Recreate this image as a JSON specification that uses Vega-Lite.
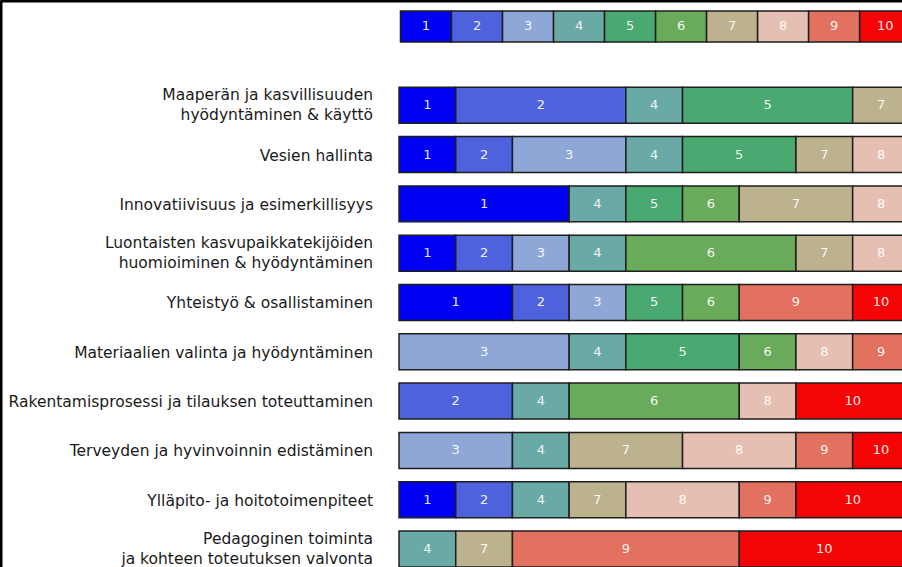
{
  "$schema": "https://vega.github.io/schema/vega-lite/v6.json",
  "width": 902,
  "height": 567,
  "autosize": "none",
  "padding": 0,
  "background": "white",
  "config": {"view": {"stroke": null}, "font": "DejaVu Sans"},
  "datasets": {
    "segments": [
      {"row": "Maaperän ja kasvillisuuden\nhyödyntäminen & käyttö", "score": 1, "count": 1},
      {"row": "Maaperän ja kasvillisuuden\nhyödyntäminen & käyttö", "score": 2, "count": 3},
      {"row": "Maaperän ja kasvillisuuden\nhyödyntäminen & käyttö", "score": 4, "count": 1},
      {"row": "Maaperän ja kasvillisuuden\nhyödyntäminen & käyttö", "score": 5, "count": 3},
      {"row": "Maaperän ja kasvillisuuden\nhyödyntäminen & käyttö", "score": 7, "count": 1},
      {"row": "Vesien hallinta", "score": 1, "count": 1},
      {"row": "Vesien hallinta", "score": 2, "count": 1},
      {"row": "Vesien hallinta", "score": 3, "count": 2},
      {"row": "Vesien hallinta", "score": 4, "count": 1},
      {"row": "Vesien hallinta", "score": 5, "count": 2},
      {"row": "Vesien hallinta", "score": 7, "count": 1},
      {"row": "Vesien hallinta", "score": 8, "count": 1},
      {"row": "Innovatiivisuus ja esimerkillisyys", "score": 1, "count": 3},
      {"row": "Innovatiivisuus ja esimerkillisyys", "score": 4, "count": 1},
      {"row": "Innovatiivisuus ja esimerkillisyys", "score": 5, "count": 1},
      {"row": "Innovatiivisuus ja esimerkillisyys", "score": 6, "count": 1},
      {"row": "Innovatiivisuus ja esimerkillisyys", "score": 7, "count": 2},
      {"row": "Innovatiivisuus ja esimerkillisyys", "score": 8, "count": 1},
      {"row": "Luontaisten kasvupaikkatekijöiden\nhuomioiminen & hyödyntäminen", "score": 1, "count": 1},
      {"row": "Luontaisten kasvupaikkatekijöiden\nhuomioiminen & hyödyntäminen", "score": 2, "count": 1},
      {"row": "Luontaisten kasvupaikkatekijöiden\nhuomioiminen & hyödyntäminen", "score": 3, "count": 1},
      {"row": "Luontaisten kasvupaikkatekijöiden\nhuomioiminen & hyödyntäminen", "score": 4, "count": 1},
      {"row": "Luontaisten kasvupaikkatekijöiden\nhuomioiminen & hyödyntäminen", "score": 6, "count": 3},
      {"row": "Luontaisten kasvupaikkatekijöiden\nhuomioiminen & hyödyntäminen", "score": 7, "count": 1},
      {"row": "Luontaisten kasvupaikkatekijöiden\nhuomioiminen & hyödyntäminen", "score": 8, "count": 1},
      {"row": "Yhteistyö & osallistaminen", "score": 1, "count": 2},
      {"row": "Yhteistyö & osallistaminen", "score": 2, "count": 1},
      {"row": "Yhteistyö & osallistaminen", "score": 3, "count": 1},
      {"row": "Yhteistyö & osallistaminen", "score": 5, "count": 1},
      {"row": "Yhteistyö & osallistaminen", "score": 6, "count": 1},
      {"row": "Yhteistyö & osallistaminen", "score": 9, "count": 2},
      {"row": "Yhteistyö & osallistaminen", "score": 10, "count": 1},
      {"row": "Materiaalien valinta ja hyödyntäminen", "score": 3, "count": 3},
      {"row": "Materiaalien valinta ja hyödyntäminen", "score": 4, "count": 1},
      {"row": "Materiaalien valinta ja hyödyntäminen", "score": 5, "count": 2},
      {"row": "Materiaalien valinta ja hyödyntäminen", "score": 6, "count": 1},
      {"row": "Materiaalien valinta ja hyödyntäminen", "score": 8, "count": 1},
      {"row": "Materiaalien valinta ja hyödyntäminen", "score": 9, "count": 1},
      {"row": "Rakentamisprosessi ja tilauksen toteuttaminen", "score": 2, "count": 2},
      {"row": "Rakentamisprosessi ja tilauksen toteuttaminen", "score": 4, "count": 1},
      {"row": "Rakentamisprosessi ja tilauksen toteuttaminen", "score": 6, "count": 3},
      {"row": "Rakentamisprosessi ja tilauksen toteuttaminen", "score": 8, "count": 1},
      {"row": "Rakentamisprosessi ja tilauksen toteuttaminen", "score": 10, "count": 2},
      {"row": "Terveyden ja hyvinvoinnin edistäminen", "score": 3, "count": 2},
      {"row": "Terveyden ja hyvinvoinnin edistäminen", "score": 4, "count": 1},
      {"row": "Terveyden ja hyvinvoinnin edistäminen", "score": 7, "count": 2},
      {"row": "Terveyden ja hyvinvoinnin edistäminen", "score": 8, "count": 2},
      {"row": "Terveyden ja hyvinvoinnin edistäminen", "score": 9, "count": 1},
      {"row": "Terveyden ja hyvinvoinnin edistäminen", "score": 10, "count": 1},
      {"row": "Ylläpito- ja hoitotoimenpiteet", "score": 1, "count": 1},
      {"row": "Ylläpito- ja hoitotoimenpiteet", "score": 2, "count": 1},
      {"row": "Ylläpito- ja hoitotoimenpiteet", "score": 4, "count": 1},
      {"row": "Ylläpito- ja hoitotoimenpiteet", "score": 7, "count": 1},
      {"row": "Ylläpito- ja hoitotoimenpiteet", "score": 8, "count": 2},
      {"row": "Ylläpito- ja hoitotoimenpiteet", "score": 9, "count": 1},
      {"row": "Ylläpito- ja hoitotoimenpiteet", "score": 10, "count": 2},
      {"row": "Pedagoginen toiminta\nja kohteen toteutuksen valvonta", "score": 4, "count": 1},
      {"row": "Pedagoginen toiminta\nja kohteen toteutuksen valvonta", "score": 7, "count": 1},
      {"row": "Pedagoginen toiminta\nja kohteen toteutuksen valvonta", "score": 9, "count": 4},
      {"row": "Pedagoginen toiminta\nja kohteen toteutuksen valvonta", "score": 10, "count": 3}
    ],
    "rows": [
      {"row": "Maaperän ja kasvillisuuden\nhyödyntäminen & käyttö"},
      {"row": "Vesien hallinta"},
      {"row": "Innovatiivisuus ja esimerkillisyys"},
      {"row": "Luontaisten kasvupaikkatekijöiden\nhuomioiminen & hyödyntäminen"},
      {"row": "Yhteistyö & osallistaminen"},
      {"row": "Materiaalien valinta ja hyödyntäminen"},
      {"row": "Rakentamisprosessi ja tilauksen toteuttaminen"},
      {"row": "Terveyden ja hyvinvoinnin edistäminen"},
      {"row": "Ylläpito- ja hoitotoimenpiteet"},
      {"row": "Pedagoginen toiminta\nja kohteen toteutuksen valvonta"}
    ],
    "legend": [
      {"row": "Asteikko", "score": 1, "count": 1},
      {"row": "Asteikko", "score": 2, "count": 1},
      {"row": "Asteikko", "score": 3, "count": 1},
      {"row": "Asteikko", "score": 4, "count": 1},
      {"row": "Asteikko", "score": 5, "count": 1},
      {"row": "Asteikko", "score": 6, "count": 1},
      {"row": "Asteikko", "score": 7, "count": 1},
      {"row": "Asteikko", "score": 8, "count": 1},
      {"row": "Asteikko", "score": 9, "count": 1},
      {"row": "Asteikko", "score": 10, "count": 1}
    ]
  },
  "layer": [
    {
      "layer": [
        {
          "data": {"name": "segments"},
          "transform": [
            {"stack": "count", "groupby": ["row"], "sort": [{"field": "score", "order": "ascending"}], "as": ["x0", "x1"]}
          ],
          "mark": {"type": "bar", "stroke": "#1e1e1e", "strokeWidth": 1.5, "clip": true},
          "encoding": {
            "y": {
              "field": "row", "type": "nominal",
              "scale": {
                "domain": [
                  "Maaperän ja kasvillisuuden\nhyödyntäminen & käyttö",
                  "Vesien hallinta",
                  "Innovatiivisuus ja esimerkillisyys",
                  "Luontaisten kasvupaikkatekijöiden\nhuomioiminen & hyödyntäminen",
                  "Yhteistyö & osallistaminen",
                  "Materiaalien valinta ja hyödyntäminen",
                  "Rakentamisprosessi ja tilauksen toteuttaminen",
                  "Terveyden ja hyvinvoinnin edistäminen",
                  "Ylläpito- ja hoitotoimenpiteet",
                  "Pedagoginen toiminta\nja kohteen toteutuksen valvonta"
                ],
                "paddingInner": 0.27, "paddingOuter": 0.885, "align": 1
              },
              "axis": {"orient": "left", "domain": true, "domainColor": "#000000", "domainWidth": 4, "labels": false, "ticks": false, "title": null, "grid": false}
            },
            "x": {
              "field": "x0", "type": "quantitative",
              "scale": {"domain": [-7.037, 8.87], "nice": false, "zero": false},
              "axis": {"orient": "top", "domain": true, "domainColor": "#000000", "domainWidth": 4, "labels": false, "ticks": false, "title": null, "grid": false}
            },
            "x2": {"field": "x1"},
            "color": {
              "field": "score", "type": "ordinal",
              "scale": {
                "domain": [1, 2, 3, 4, 5, 6, 7, 8, 9, 10],
                "range": ["#0000f2", "#4f62dd", "#8ea7d6", "#69a9a6", "#4aa970", "#6aab5b", "#bcb28d", "#e5bfb2", "#e3715f", "#f40404"]
              },
              "legend": null
            }
          }
        },
        {
          "data": {"name": "segments"},
          "transform": [
            {"stack": "count", "groupby": ["row"], "sort": [{"field": "score", "order": "ascending"}], "as": ["x0", "x1"]},
            {"calculate": "(datum.x0 + datum.x1) / 2", "as": "xmid"}
          ],
          "mark": {"type": "text", "color": "#ffffff", "fontSize": 13, "baseline": "middle", "align": "center", "clip": true, "opacity": 0.9},
          "encoding": {
            "y": {"field": "row", "type": "nominal"},
            "x": {"field": "xmid", "type": "quantitative"},
            "text": {"field": "score", "type": "nominal"}
          }
        },
        {
          "data": {"name": "rows"},
          "transform": [{"filter": "indexof(datum.row, '\\n') < 0"}],
          "mark": {"type": "text", "align": "right", "baseline": "middle", "dx": -26, "dy": 1, "fontSize": 15.5, "color": "#1a1a1a"},
          "encoding": {
            "y": {"field": "row", "type": "nominal"},
            "x": {"datum": 0, "type": "quantitative"},
            "text": {"field": "row", "type": "nominal"}
          }
        },
        {
          "data": {"name": "rows"},
          "transform": [{"filter": "indexof(datum.row, '\\n') >= 0"}],
          "mark": {"type": "text", "align": "right", "baseline": "middle", "dx": -26, "dy": -10, "fontSize": 15.5, "lineBreak": "\n", "lineHeight": 19.5, "color": "#1a1a1a"},
          "encoding": {
            "y": {"field": "row", "type": "nominal"},
            "x": {"datum": 0, "type": "quantitative"},
            "text": {"field": "row", "type": "nominal"}
          }
        }
      ]
    },
    {
      "layer": [
        {
          "data": {"name": "legend"},
          "transform": [
            {"stack": "count", "groupby": ["row"], "sort": [{"field": "score", "order": "ascending"}], "as": ["x0", "x1"]}
          ],
          "mark": {"type": "bar", "stroke": "#1e1e1e", "strokeWidth": 1.5, "clip": true},
          "encoding": {
            "y": {"field": "row", "type": "nominal", "scale": {"paddingInner": 0.8843, "paddingOuter": 1, "align": 0.0205}, "axis": null},
            "x": {"field": "x0", "type": "quantitative", "scale": {"domain": [-7.85, 9.83], "nice": false, "zero": false}, "axis": null},
            "x2": {"field": "x1"},
            "color": {"field": "score", "type": "ordinal", "legend": null}
          }
        },
        {
          "data": {"name": "legend"},
          "transform": [
            {"stack": "count", "groupby": ["row"], "sort": [{"field": "score", "order": "ascending"}], "as": ["x0", "x1"]},
            {"calculate": "(datum.x0 + datum.x1) / 2", "as": "xmid"}
          ],
          "mark": {"type": "text", "color": "#ffffff", "fontSize": 13, "baseline": "middle", "align": "center", "clip": true, "opacity": 0.9},
          "encoding": {
            "y": {"field": "row", "type": "nominal"},
            "x": {"field": "xmid", "type": "quantitative"},
            "text": {"field": "score", "type": "nominal"}
          }
        }
      ]
    }
  ],
  "resolve": {"scale": {"x": "independent", "y": "independent", "color": "shared"}}
}
